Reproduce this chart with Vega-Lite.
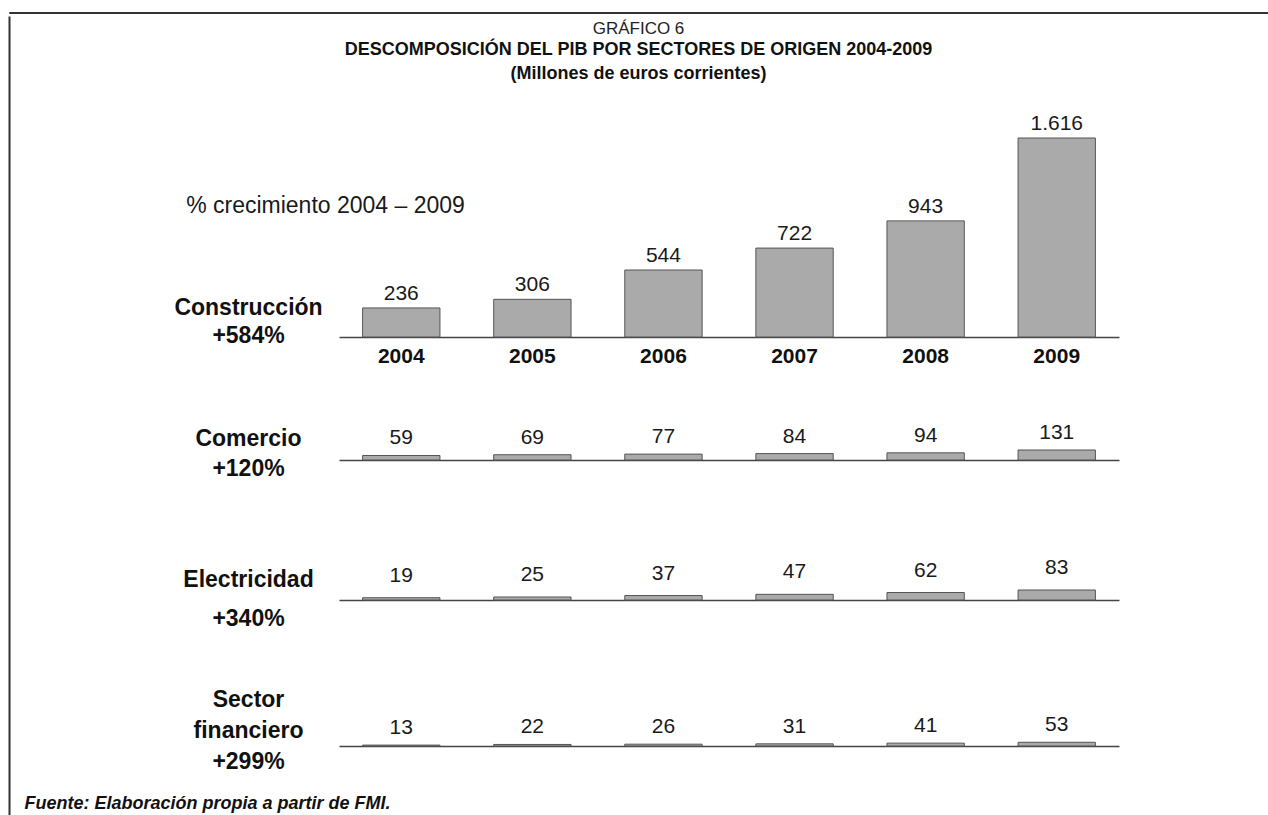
{
  "$schema": "https://vega.github.io/schema/vega-lite/v6.json",
  "background": "white",
  "padding": {"left": 8, "top": 11, "right": 0, "bottom": 0},
  "config": {
    "font": "Liberation Sans",
    "view": {"stroke": null},
    "axis": {"grid": false, "ticks": false},
    "locale": {"number": {"decimal": ",", "thousands": ".", "grouping": [3], "currency": ["", " €"]}}
  },
  "datasets": {
    "construccion": [
      {"year": "2004", "value": 236}, {"year": "2005", "value": 306}, {"year": "2006", "value": 544},
      {"year": "2007", "value": 722}, {"year": "2008", "value": 943}, {"year": "2009", "value": 1616}
    ],
    "comercio": [
      {"year": "2004", "value": 59}, {"year": "2005", "value": 69}, {"year": "2006", "value": 77},
      {"year": "2007", "value": 84}, {"year": "2008", "value": 94}, {"year": "2009", "value": 131}
    ],
    "electricidad": [
      {"year": "2004", "value": 19}, {"year": "2005", "value": 25}, {"year": "2006", "value": 37},
      {"year": "2007", "value": 47}, {"year": "2008", "value": 62}, {"year": "2009", "value": 83}
    ],
    "financiero": [
      {"year": "2004", "value": 13}, {"year": "2005", "value": 22}, {"year": "2006", "value": 26},
      {"year": "2007", "value": 31}, {"year": "2008", "value": 41}, {"year": "2009", "value": 53}
    ]
  },
  "spacing": 0,
  "vconcat": [
    {
      "width": 1262, "height": 1,
      "data": {"values": []},
      "mark": {"type": "point", "opacity": 0},
      "encoding": {},
      "view": {"stroke": "#333333", "strokeWidth": 1}
    },
    {
      "spacing": 14,
      "hconcat": [
        {
          "width": 1, "height": 677,
          "data": {"values": []},
          "mark": {"type": "point", "opacity": 0},
          "encoding": {
            "y": {
              "datum": 0, "type": "quantitative",
              "scale": {"domain": [0, 1], "range": [700, -122]},
              "axis": {"labels": false, "ticks": false, "grid": false, "title": null, "domainColor": "#333333", "domainWidth": 2}
            }
          }
        },
        {
          "bounds": "flush",
          "spacing": 20,
          "title": {
            "text": [" ", "GRÁFICO 6"],
            "fontSize": 17,
            "fontWeight": "normal",
            "lineHeight": 6,
            "color": "#222222",
            "anchor": "middle",
            "dx": 67,
            "subtitle": ["DESCOMPOSICIÓN DEL PIB POR SECTORES DE ORIGEN 2004-2009", "(Millones de euros corrientes)"],
            "subtitleFontSize": 18,
            "subtitleFontWeight": "bold",
            "subtitleLineHeight": 24,
            "subtitleColor": "#111111",
            "subtitlePadding": 3,
            "offset": 29
          },
          "vconcat": [
            {
              "width": 780, "height": 199,
              "data": {"name": "construccion"},
              "encoding": {
                "x": {
                  "field": "year", "type": "ordinal",
                  "scale": {"paddingInner": 0.41, "paddingOuter": 0.18},
                  "axis": {
                    "title": null, "labelAngle": 0, "labelFontSize": 21, "labelFontWeight": "bold",
                    "labelColor": "#111111", "labelBaseline": "top", "labelPadding": 8,
                    "domainColor": "#444444", "domainWidth": 1.5
                  }
                }
              },
              "layer": [
                {
                  "mark": {"type": "bar", "fill": "#aaaaaa", "stroke": "#555555", "strokeWidth": 1},
                  "encoding": {
                    "y": {
                      "field": "value", "type": "quantitative",
                      "scale": {"domain": [0, 1616], "nice": false},
                      "axis": {
                        "orient": "left", "labels": false, "domain": false,
                        "title": ["Construcción", "+584%"], "titleAngle": 0, "titleAlign": "center",
                        "titleBaseline": "top", "titleX": -91, "titleY": 158, "titleFontSize": 23,
                        "titleFontWeight": "bold", "titleLineHeight": 28, "titleColor": "#111111"
                      }
                    }
                  }
                },
                {
                  "mark": {"type": "text", "dy": -14, "fontSize": 21, "baseline": "middle", "color": "#1a1a1a"},
                  "encoding": {
                    "y": {
                      "field": "value", "type": "quantitative",
                      "scale": {"domain": [0, 1616], "nice": false},
                      "axis": {
                        "orient": "right", "labels": false, "domain": false,
                        "title": "% crecimiento 2004 – 2009", "titleAngle": 0, "titleAlign": "center",
                        "titleBaseline": "top", "titleX": -794, "titleY": 56, "titleFontSize": 23,
                        "titleFontWeight": "normal", "titleColor": "#1a1a1a"
                      }
                    },
                    "text": {"field": "value", "type": "quantitative", "format": ",d"}
                  }
                }
              ],
              "resolve": {"axis": {"y": "independent"}}
            },
            {
              "width": 780, "height": 103,
              "data": {"name": "comercio"},
              "encoding": {
                "x": {
                  "field": "year", "type": "ordinal",
                  "scale": {"paddingInner": 0.41, "paddingOuter": 0.18},
                  "axis": {"title": null, "labels": false, "domainColor": "#444444", "domainWidth": 1.5}
                },
                "y": {
                  "field": "value", "type": "quantitative",
                  "scale": {"domain": [0, 1349], "nice": false},
                  "axis": {
                    "labels": false, "domain": false,
                    "title": ["Comercio", "+120%"], "titleAngle": 0, "titleAlign": "center",
                    "titleBaseline": "top", "titleX": -91, "titleY": 70, "titleFontSize": 23,
                    "titleFontWeight": "bold", "titleLineHeight": 30, "titleColor": "#111111"
                  }
                }
              },
              "layer": [
                {"mark": {"type": "bar", "fill": "#aaaaaa", "stroke": "#555555", "strokeWidth": 1}},
                {
                  "mark": {"type": "text", "dy": -17, "fontSize": 21, "baseline": "middle", "color": "#1a1a1a"},
                  "encoding": {"text": {"field": "value", "type": "quantitative", "format": ",d"}}
                }
              ]
            },
            {
              "width": 780, "height": 120,
              "data": {"name": "electricidad"},
              "encoding": {
                "x": {
                  "field": "year", "type": "ordinal",
                  "scale": {"paddingInner": 0.41, "paddingOuter": 0.18},
                  "axis": {"title": null, "labels": false, "domainColor": "#444444", "domainWidth": 1.5}
                },
                "y": {
                  "field": "value", "type": "quantitative",
                  "scale": {"domain": [0, 996], "nice": false},
                  "axis": {
                    "labels": false, "domain": false,
                    "title": ["Electricidad", "+340%"], "titleAngle": 0, "titleAlign": "center",
                    "titleBaseline": "top", "titleX": -91, "titleY": 88, "titleFontSize": 23,
                    "titleFontWeight": "bold", "titleLineHeight": 39, "titleColor": "#111111"
                  }
                }
              },
              "layer": [
                {"mark": {"type": "bar", "fill": "#aaaaaa", "stroke": "#555555", "strokeWidth": 1}},
                {
                  "mark": {"type": "text", "dy": -22, "fontSize": 21, "baseline": "middle", "color": "#1a1a1a"},
                  "encoding": {"text": {"field": "value", "type": "quantitative", "format": ",d"}}
                }
              ]
            },
            {
              "width": 780, "height": 126,
              "data": {"name": "financiero"},
              "encoding": {
                "x": {
                  "field": "year", "type": "ordinal",
                  "scale": {"paddingInner": 0.41, "paddingOuter": 0.18},
                  "axis": {
                    "labels": false, "domainColor": "#444444", "domainWidth": 1.5,
                    "title": "Fuente: Elaboración propia a partir de FMI.",
                    "titleX": -315, "titleY": 62, "titleAlign": "left", "titleBaseline": "alphabetic",
                    "titleFontSize": 18, "titleFontWeight": "bold", "titleFontStyle": "italic", "titleColor": "#111111"
                  }
                },
                "y": {
                  "field": "value", "type": "quantitative",
                  "scale": {"domain": [0, 1800], "nice": false},
                  "axis": {
                    "labels": false, "domain": false,
                    "title": ["Sector", "financiero", "+299%"], "titleAngle": 0, "titleAlign": "center",
                    "titleBaseline": "top", "titleX": -91, "titleY": 68, "titleFontSize": 23,
                    "titleFontWeight": "bold", "titleLineHeight": 31, "titleColor": "#111111"
                  }
                }
              },
              "layer": [
                {"mark": {"type": "bar", "fill": "#aaaaaa", "stroke": "#555555", "strokeWidth": 1}},
                {
                  "mark": {"type": "text", "dy": -17, "fontSize": 21, "baseline": "middle", "color": "#1a1a1a"},
                  "encoding": {"text": {"field": "value", "type": "quantitative", "format": ",d"}}
                }
              ]
            }
          ]
        }
      ]
    }
  ]
}
